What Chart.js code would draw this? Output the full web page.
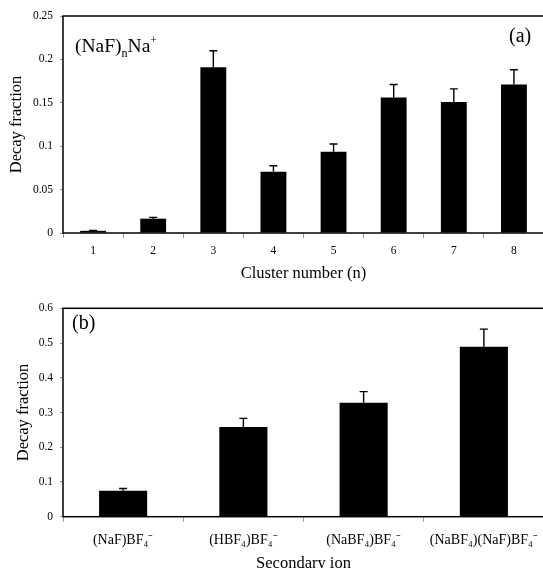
<!DOCTYPE html>
<html>
<head>
<meta charset="utf-8">
<script src="https://cdn.jsdelivr.net/npm/chart.js@4.4.0/dist/chart.umd.min.js"></script>
<style>
html, body { margin: 0; padding: 0; background: #fff; overflow: hidden; width: 543px; height: 568px; }
canvas { position: absolute; left: 0; }
#chartA { top: 0; }
#chartB { top: 290px; }
</style>
</head>
<body>
<canvas id="chartA" width="546" height="290"></canvas>
<canvas id="chartB" width="546" height="290"></canvas>
<script>
// panel (a): (NaF)nNa+ clusters
var clusterLabels = ['1', '2', '3', '4', '5', '6', '7', '8'];
var clusterDecay = [0.0025, 0.0165, 0.191, 0.0705, 0.0935, 0.156, 0.151, 0.171];
var clusterErr = [0.0004, 0.0015, 0.019, 0.007, 0.009, 0.015, 0.015, 0.017];

// panel (b): secondary ions
var ionLabels = ['(NaF)BF\u2084\u207B', '(HBF\u2084)BF\u2084\u207B', '(NaBF\u2084)BF\u2084\u207B', '(NaBF\u2084)(NaF)BF\u2084\u207B'];
var ionDecay = [0.075, 0.258, 0.328, 0.489];
var ionErr = [0.006, 0.025, 0.032, 0.051];

var serif = 'Liberation Serif';

// upward error bars with a small cap
var errorBars = {
    id: 'errorBars',
    afterDatasetsDraw: function(chart) {
        var ds = chart.data.datasets[0];
        var meta = chart.getDatasetMeta(0);
        var y = chart.scales.y;
        var ctx = chart.ctx;
        ctx.save();
        ctx.strokeStyle = '#000';
        ctx.lineWidth = 1.4;
        meta.data.forEach(function(bar, i) {
            var top = y.getPixelForValue(ds.data[i] + ds.errors[i]);
            var base = y.getPixelForValue(ds.data[i]);
            ctx.beginPath();
            ctx.moveTo(bar.x, base);
            ctx.lineTo(bar.x, top);
            ctx.moveTo(bar.x - 4, top);
            ctx.lineTo(bar.x + 4, top);
            ctx.stroke();
        });
        ctx.restore();
    }
};

// box round the plot area
var frame = {
    id: 'frame',
    afterDraw: function(chart) {
        var a = chart.chartArea;
        var ctx = chart.ctx;
        ctx.save();
        ctx.strokeStyle = '#000';
        ctx.lineWidth = 1.5;
        ctx.strokeRect(a.left, a.top, a.right - a.left, a.bottom - a.top);
        ctx.restore();
    }
};

// text drawn inside the plot (sub/superscripts by hand)
function drawParts(ctx, parts, x, y, size) {
    parts.forEach(function(p) {
        var s = p[1] ? size * 0.62 : size;
        ctx.font = s + 'px "' + serif + '"';
        var dy = p[1] === 'sub' ? size * 0.28 : (p[1] === 'sup' ? -size * 0.42 : 0);
        ctx.fillText(p[0], x, y + dy);
        x += ctx.measureText(p[0]).width;
    });
}

var notes = {
    id: 'notes',
    afterDraw: function(chart, args, opts) {
        var ctx = chart.ctx;
        ctx.save();
        ctx.fillStyle = '#000';
        ctx.textBaseline = 'alphabetic';
        opts.items.forEach(function(it) {
            drawParts(ctx, it.parts, it.x, it.y, it.size);
        });
        ctx.restore();
    }
};

function makeOptions(cfg) {
    return {
        responsive: false,
        animation: false,
        layout: { padding: { left: 0, right: 2, top: cfg.top, bottom: 0 } },
        plugins: {
            legend: { display: false },
            tooltip: { enabled: false },
            notes: { items: cfg.notes }
        },
        scales: {
            x: {
                afterFit: function(s) {
                    s.height = cfg.xHeight;
                    s.paddingLeft = 0;
                    s.paddingRight = 0;
                },
                grid: { display: true, drawOnChartArea: false, offset: true, tickLength: 5, color: '#999' },
                border: { display: false },
                ticks: { color: '#000', padding: cfg.xPad, font: { family: serif, size: cfg.xSize } },
                title: { display: true, text: cfg.xTitle, color: '#000', padding: { top: 0, bottom: cfg.xTitlePad },
                    font: { family: serif, size: 16.5 } }
            },
            y: {
                min: 0,
                max: cfg.max,
                afterFit: function(s) { s.width = 63; },
                grid: { display: true, drawOnChartArea: false, tickLength: 3, color: '#999' },
                border: { display: false },
                ticks: {
                    stepSize: cfg.step, color: '#000', padding: 7, font: { family: serif, size: 11.5 },
                    callback: function(v) { return String(+v.toFixed(2)); }
                },
                title: { display: true, text: 'Decay fraction', color: '#000', padding: { top: cfg.yTitlePad, bottom: 0 },
                    font: { family: serif, size: 16.5 } }
            }
        }
    };
}

new Chart(document.getElementById('chartA'), {
    type: 'bar',
    data: {
        labels: clusterLabels,
        datasets: [{
            data: clusterDecay,
            errors: clusterErr,
            backgroundColor: '#000',
            categoryPercentage: 1,
            barPercentage: 0.43
        }]
    },
    options: makeOptions({
        top: 16, xHeight: 57, xPad: 6, xSize: 11.5, xTitle: 'Cluster number (n)', xTitlePad: 6,
        max: 0.25, step: 0.05, yTitlePad: 6.5,
        notes: [
            { x: 75, y: 52, size: 19.5, parts: [['(NaF)'], ['n', 'sub'], ['Na'], ['+', 'sup']] },
            { x: 509, y: 42, size: 20, parts: [['(a)']] }
        ]
    }),
    plugins: [errorBars, frame, notes]
});

new Chart(document.getElementById('chartB'), {
    type: 'bar',
    data: {
        labels: ionLabels,
        datasets: [{
            data: ionDecay,
            errors: ionErr,
            backgroundColor: '#000',
            categoryPercentage: 1,
            barPercentage: 0.4
        }]
    },
    options: makeOptions({
        top: 18.3, xHeight: 63.3, xPad: 10, xSize: 14, xTitle: 'Secondary ion', xTitlePad: 6,
        max: 0.6, step: 0.1, yTitlePad: 14,
        notes: [
            { x: 72, y: 39, size: 20, parts: [['(b)']] }
        ]
    }),
    plugins: [errorBars, frame, notes]
});
</script>
</body>
</html>
